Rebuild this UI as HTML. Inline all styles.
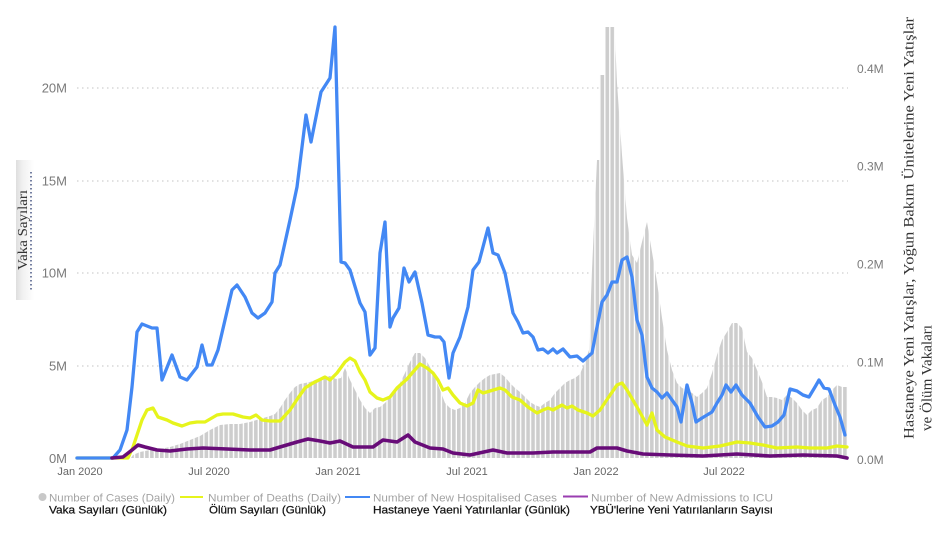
<!DOCTYPE html>
<html>
<head>
<meta charset="utf-8">
<style>
  html,body{margin:0;padding:0;background:#fff;}
  body{width:944px;height:533px;overflow:hidden;}
  svg{display:block;}
  .ax{font-family:"Liberation Sans",Arial,sans-serif;fill:#7a7a7a;}
  .xl{font-family:"Liberation Sans",Arial,sans-serif;fill:#666;font-size:11px;}
  .lg1{font-family:"Liberation Sans",Arial,sans-serif;fill:#a3a3a3;font-size:11px;}
  .lg2{font-family:"Liberation Sans",Arial,sans-serif;fill:#151515;font-size:11px;stroke:#151515;stroke-width:0.25;}
  .ser{font-family:"Liberation Serif","Times New Roman",serif;fill:#333;}
</style>
</head>
<body>
<svg width="944" height="533" viewBox="0 0 944 533" xmlns="http://www.w3.org/2000/svg">
  <defs>
    <pattern id="bars" x="130.3" y="0" width="4.95" height="20" patternUnits="userSpaceOnUse">
      <rect x="0" y="0" width="3.6" height="20" fill="#cdcdcd"/>
    </pattern>
    <linearGradient id="vbox" x1="0" y1="0" x2="1" y2="0">
      <stop offset="0" stop-color="#dedede"/>
      <stop offset="0.35" stop-color="#f0f0f0"/>
      <stop offset="1" stop-color="#ffffff"/>
    </linearGradient>
  </defs>

  <!-- gridlines -->
  <g stroke="#cfcfcf" stroke-width="1.2" stroke-dasharray="1.5 3.5">
    <line x1="77" y1="88" x2="848" y2="88"/>
    <line x1="77" y1="181" x2="848" y2="181"/>
    <line x1="77" y1="273" x2="848" y2="273"/>
    <line x1="77" y1="366" x2="848" y2="366"/>
  </g>

  <!-- left axis labels -->
  <g class="ax" font-size="13" text-anchor="end">
    <text x="67" y="92.5">20M</text>
    <text x="67" y="185.5">15M</text>
    <text x="67" y="277.5">10M</text>
    <text x="67" y="370.5">5M</text>
    <text x="67" y="463">0M</text>
  </g>

  <!-- right axis labels -->
  <g class="ax" font-size="12" fill="#858585">
    <text x="857" y="72.8">0.4M</text>
    <text x="857" y="170.3">0.3M</text>
    <text x="857" y="268.3">0.2M</text>
    <text x="857" y="366.3">0.1M</text>
    <text x="857" y="464">0.0M</text>
  </g>

  <!-- x axis labels -->
  <g class="xl" text-anchor="middle">
    <text x="80" y="475">Jan 2020</text>
    <text x="209" y="475">Jul 2020</text>
    <text x="338" y="475">Jan 2021</text>
    <text x="467" y="475">Jul 2021</text>
    <text x="596" y="475">Jan 2022</text>
    <text x="724" y="475">Jul 2022</text>
  </g>

  <!-- bars (weekly cases) -->
  <path fill="url(#bars)" d="M131,458 L133,455 L140,452 L150,450 L160,449 L170,447 L180,444 L190,440 L200,436 L210,430 L220,425 L230,424 L240,424 L250,422 L260,419 L270,416 L275,414 L280,408 L285,400 L290,393 L295,387 L300,384 L310,382 L320,378 L330,376 L336,379 L341,378 L345,368 L350,380 L355,390 L360,400 L365,408 L370,413 L375,408 L380,407 L385,403 L390,397 L395,390 L400,383 L405,373 L410,362 L415,353 L420,353 L425,358 L430,367 L435,377 L440,390 L445,403 L450,408 L455,410 L460,408 L465,403 L470,393 L475,387 L480,382 L485,378 L490,375 L500,373 L505,377 L510,383 L515,388 L520,392 L525,397 L530,402 L535,405 L540,407 L545,403 L550,400 L555,393 L560,388 L565,383 L570,380 L575,378 L580,374 L585,362 L589,350 L592,270 L597,160 L599.8,160 L599.8,75 L604.8,75 L604.8,27 L614.5,27 L617,83 L622,155 L627,218 L632,255 L637,263 L642,242 L647,222 L652,252 L657,282 L662,318 L667,350 L672,370 L677,383 L682,388 L687,390 L692,393 L697,397 L702,393 L707,388 L712,373 L717,355 L722,340 L727,332 L732,323 L737,323 L742,328 L747,352 L752,358 L757,370 L762,382 L767,397 L772,397 L777,398 L782,400 L787,395 L792,398 L797,403 L802,410 L807,415 L812,410 L817,408 L822,400 L827,397 L832,390 L837,385 L842,387 L848,387 L848,458 Z"/>

  <!-- deaths (yellow) -->
  <polyline fill="none" stroke="#e6f41c" stroke-width="3.3" stroke-linejoin="round" stroke-linecap="round"
    points="77,458 128,458 133,447 142,420 147,410 153,408 158,417 167,420 173,423 182,426 190,423 197,422 205,422 217,415 223,414 233,414 243,417 250,418 256,415 262,420 270,421 280,421 290,410 298,398 305,388 313,383 325,377 330,380 337,373 345,362 350,358 355,361 360,372 365,380 370,392 377,398 383,400 390,397 397,388 407,379 413,372 420,364 427,368 433,373 438,380 443,390 448,388 453,395 460,403 467,406 473,403 478,390 483,393 490,391 500,388 505,390 512,397 520,400 528,407 537,413 543,410 548,408 553,410 562,405 567,408 572,406 578,410 587,413 593,416 600,410 608,398 617,385 622,383 627,390 637,407 647,425 652,413 657,430 665,437 677,442 687,446 703,448 720,446 737,442 750,443 763,445 777,448 797,447 810,448 827,448 837,446 847,447"/>

  <!-- hospitalised (blue) -->
  <polyline fill="none" stroke="#4388f4" stroke-width="3.3" stroke-linejoin="round" stroke-linecap="round"
    points="77,458 113,458 120,450 127,430 132,387 137,332 142,324 152,328 157,328 162,380 172,355 180,377 187,380 197,367 202,345 207,365 212,365 218,350 232,290 237,285 245,297 252,313 258,318 265,313 272,302 275,273 280,265 290,220 297,187 306,115 311,142 316,117 321,92 330,78 335,27 341,262 345,263 350,270 360,303 365,312 370,355 375,348 380,253 385,222 390,327 393,318 399,308 404,268 409,282 415,272 422,303 428,335 435,337 440,337 444,342 449,378 453,353 460,337 468,307 473,270 479,262 488,228 493,253 498,255 505,273 513,313 518,322 523,333 528,332 533,337 538,350 543,349 548,353 553,349 557,353 563,349 570,357 577,356 583,361 592,353 597,327 602,302 607,295 612,282 617,282 622,260 627,257 632,277 637,320 642,335 647,377 652,388 657,392 662,398 667,393 672,400 677,407 681,422 687,385 692,403 696,422 702,418 707,415 712,412 717,403 722,395 726,385 731,392 736,385 742,395 750,403 758,417 765,427 772,426 778,422 784,415 790,389 797,391 803,395 809,397 815,387 819,380 824,388 829,389 835,405 840,417 845,435"/>

  <!-- ICU (purple) -->
  <polyline fill="none" stroke="#680c78" stroke-width="3.6" stroke-linejoin="round" stroke-linecap="round"
    points="112,458 123,457 132,450 138,445 145,447 157,450 170,451 187,449 203,448 227,449 250,450 270,450 280,447 297,442 308,439 320,441 330,443 340,441 353,447 373,447 383,440 397,442 408,435 415,442 430,448 443,449 453,453 470,455 493,450 507,453 520,453 533,453 553,452 570,452 590,452 597,448 617,448 627,451 643,454 670,455 703,456 737,454 770,456 803,455 837,456 847,458"/>

  <!-- left axis title box -->
  <rect x="16" y="160" width="18" height="140" fill="url(#vbox)"/>
  <line x1="31" y1="172" x2="31" y2="290" stroke="#3a4a7a" stroke-width="1.4" stroke-dasharray="1.5 2.5"/>
  <text class="ser" font-size="14" fill="#222" transform="translate(27,270) rotate(-90)" textLength="80" lengthAdjust="spacingAndGlyphs">Vaka Sayıları</text>

  <!-- right axis title -->
  <text class="ser" font-size="15" transform="translate(913.5,439) rotate(-90)" textLength="422" lengthAdjust="spacingAndGlyphs">Hastaneye Yeni Yatışlar, Yoğun Bakım Ünitelerine Yeni Yatışlar</text>
  <text class="ser" font-size="15" transform="translate(931.5,431) rotate(-90)" textLength="106" lengthAdjust="spacingAndGlyphs">ve Ölüm Vakaları</text>

  <!-- legend row 1 -->
  <circle cx="42.5" cy="497" r="4" fill="#c8c8c8"/>
  <text class="lg1" x="49" y="501.5" textLength="126" lengthAdjust="spacingAndGlyphs">Number of Cases (Daily)</text>
  <line x1="180" y1="497" x2="203" y2="497" stroke="#e6f41c" stroke-width="2"/>
  <text class="lg1" x="208" y="501.5" textLength="133" lengthAdjust="spacingAndGlyphs">Number of Deaths (Daily)</text>
  <line x1="345" y1="497" x2="370" y2="497" stroke="#4388f4" stroke-width="2"/>
  <text class="lg1" x="373" y="501.5" textLength="184" lengthAdjust="spacingAndGlyphs">Number of New Hospitalised Cases</text>
  <line x1="563" y1="496.5" x2="588" y2="496.5" stroke="#9a3db0" stroke-width="2"/>
  <text class="lg1" x="591" y="501.5" textLength="182" lengthAdjust="spacingAndGlyphs">Number of New Admissions to ICU</text>

  <!-- legend row 2 -->
  <text class="lg2" x="49" y="513.5" textLength="118" lengthAdjust="spacingAndGlyphs">Vaka Sayıları (Günlük)</text>
  <text class="lg2" x="209" y="513.5" textLength="117" lengthAdjust="spacingAndGlyphs">Ölüm Sayıları (Günlük)</text>
  <text class="lg2" x="373" y="513.5" textLength="197" lengthAdjust="spacingAndGlyphs">Hastaneye Yaeni Yatırılanlar (Günlük)</text>
  <text class="lg2" x="590" y="513.5" textLength="183" lengthAdjust="spacingAndGlyphs">YBÜ'lerine Yeni Yatırılanların Sayısı</text>
</svg>
</body>
</html>
